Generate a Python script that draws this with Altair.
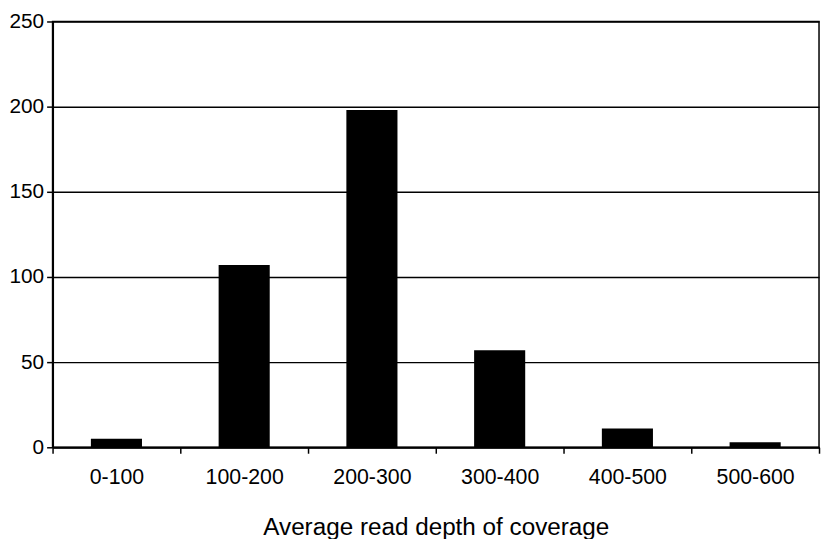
import altair as alt
import pandas as pd

categories = ["0-100", "100-200", "200-300", "300-400", "400-500", "500-600"]
counts = [5, 107, 198, 57, 11, 3]

df = pd.DataFrame({"bin": categories, "count": counts})

FONT = "Liberation Sans"

chart = alt.Chart(df).mark_bar(color="black", width=alt.RelativeBandSize(0.4)).encode(
    x=alt.X("bin:N", sort=categories,
            scale=alt.Scale(paddingInner=0, paddingOuter=0),
            axis=alt.Axis(title="Average read depth of coverage", labelAngle=0,
                          tickBand="extent", ticks=True, tickSize=6, tickColor="black",
                          tickWidth=1.5, domainColor="black", domainWidth=2,
                          labelFontSize=21.5, labelFont=FONT, labelColor="black",
                          labelPadding=14, titleFontSize=24.5, titleFont=FONT,
                          titleFontWeight="normal", titleColor="black", titlePadding=28,
                          grid=False)),
    y=alt.Y("count:Q", scale=alt.Scale(domain=[0, 250], nice=False),
            axis=alt.Axis(title=None, values=[0, 50, 100, 150, 200, 250],
                          tickSize=6, tickColor="black", tickWidth=1.5,
                          domainColor="black", domainWidth=2,
                          labelFontSize=21, labelFont=FONT, labelColor="black",
                          labelPadding=3, grid=True, gridColor="black",
                          gridWidth=1.5, gridOpacity=1)),
).properties(
    width=774, height=430,
    autosize=alt.AutoSizeParams(type="none"),
    padding={"left": 45, "top": 11, "right": 2, "bottom": 90},
).configure_view(stroke="black", strokeWidth=1.5)

chart.save("out.html", embed_options={"renderer": "svg", "actions": False})
